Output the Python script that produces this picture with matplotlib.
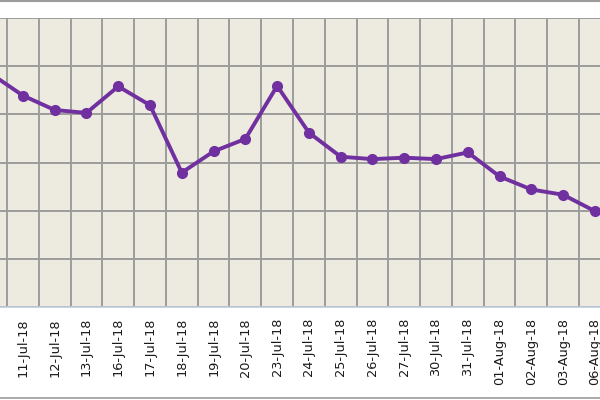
import numpy as np
import matplotlib
matplotlib.use('Agg')
import matplotlib.pyplot as plt
from matplotlib.lines import Line2D

# trading days shown (first one falls just off the left edge of the crop)
dates = ['10-Jul-18', '11-Jul-18', '12-Jul-18', '13-Jul-18', '16-Jul-18', '17-Jul-18',
         '18-Jul-18', '19-Jul-18', '20-Jul-18', '23-Jul-18', '24-Jul-18', '25-Jul-18',
         '26-Jul-18', '27-Jul-18', '30-Jul-18', '31-Jul-18', '01-Aug-18', '02-Aug-18',
         '03-Aug-18', '06-Aug-18']
# values in gridline units (axis labels are cut off in the source)
values = [4.84, 4.39, 4.09, 4.03, 4.58, 4.19, 2.79, 3.23, 3.49, 4.59, 3.62, 3.12,
          3.07, 3.10, 3.07, 3.21, 2.71, 2.44, 2.33, 1.99]
y_ticks = [0, 1, 2, 3, 4, 5, 6]

W, H = 600, 400
fig = plt.figure(figsize=(W / 100, H / 100), dpi=100)
fig.patch.set_facecolor('white')

# plot area spans beyond the crop on left and right
step = 31.78
left_px = 7 - step
right_px = left_px + step * len(dates)
top_px, bottom_px = 18, 307
ax = fig.add_axes([left_px / W, 1 - bottom_px / H,
                   (right_px - left_px) / W, (bottom_px - top_px) / H])
ax.set_facecolor('#EDEAE0')

x = np.arange(len(dates))
ax.plot(x, values, color='#7030A0', linewidth=2.8, marker='o', markersize=7,
        markerfacecolor='#7030A0', markeredgecolor='#7030A0', zorder=3)

ax.set_xlim(-0.5, len(dates) - 0.5)
ax.set_ylim(y_ticks[0], y_ticks[-1])
ax.set_yticks(y_ticks)
ax.set_xticks(x)
ax.set_xticklabels(dates, rotation=90, fontsize=9.3, color='#1a1a1a', family='DejaVu Sans')
# first date's label sits outside the crop
ax.get_xticklabels()[0].set_visible(False)
ax.set_xticks(np.arange(-0.5, len(dates), 1), minor=True)
ax.tick_params(axis='x', which='both', length=0, pad=8)
ax.tick_params(axis='y', which='both', length=0, labelleft=False)

ax.grid(True, axis='y', which='major', color='#9C9C9C', linewidth=1.4)
ax.grid(True, axis='x', which='minor', color='#9C9C9C', linewidth=1.4)
ax.set_axisbelow(True)

for s in ['left', 'right', 'top']:
    ax.spines[s].set_visible(False)
ax.spines['bottom'].set_color('#BCCBDB')
ax.spines['bottom'].set_linewidth(1.2)

# chart area border lines visible at top and bottom of the crop
fig.add_artist(Line2D([0, 1], [1 - 0.8 / H, 1 - 0.8 / H], color='#9C9C9C', linewidth=1.5))
fig.add_artist(Line2D([0, 1], [2.0 / H, 2.0 / H], color='#9C9C9C', linewidth=1.2))

fig.savefig('out.png', dpi=100)
